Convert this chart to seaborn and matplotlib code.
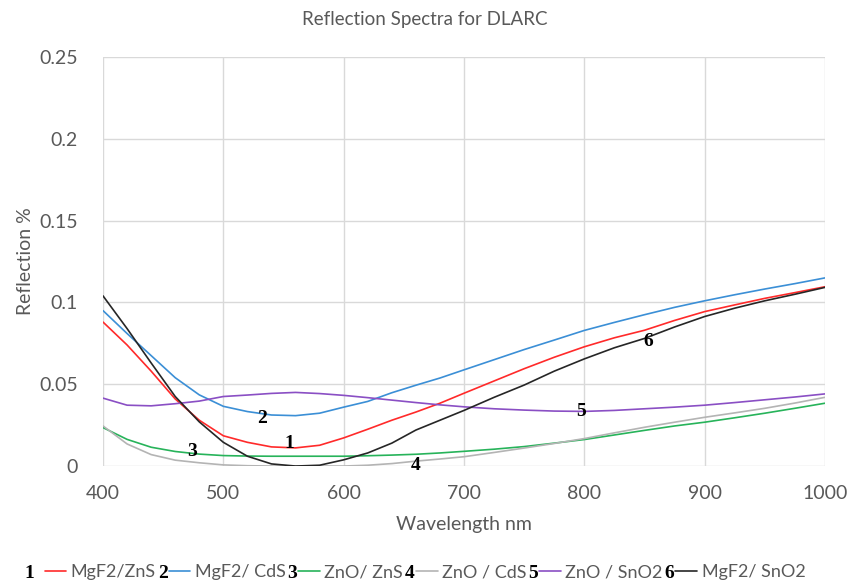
import numpy as np
import pandas as pd
import matplotlib
matplotlib.use("Agg")
import matplotlib.pyplot as plt
import seaborn as sns

# ---------------- data ----------------
wavelength = [400, 420, 440, 460, 480, 500, 520, 540, 560, 580, 600, 620, 640, 660,
              680, 700, 725, 750, 775, 800, 825, 850, 875, 900, 925, 950, 975, 1000]

mgf2_zns = [0.088, 0.074, 0.058, 0.041, 0.028, 0.0185, 0.0145, 0.0117, 0.0111, 0.0127,
            0.0172, 0.0225, 0.028, 0.033, 0.0384, 0.0445, 0.052, 0.0595, 0.0665, 0.0729,
            0.0784, 0.083, 0.089, 0.0944, 0.0985, 0.1025, 0.106, 0.1096]
mgf2_cds = [0.095, 0.081, 0.0675, 0.054, 0.0435, 0.0365, 0.0333, 0.0312, 0.0308, 0.0323,
            0.036, 0.0395, 0.0448, 0.0494, 0.0538, 0.0588, 0.065, 0.0712, 0.077, 0.0829,
            0.0878, 0.0925, 0.097, 0.101, 0.1047, 0.1082, 0.1115, 0.115]
zno_zns = [0.0235, 0.0163, 0.0115, 0.0089, 0.0073, 0.0064, 0.0061, 0.006, 0.006, 0.006,
           0.006, 0.0063, 0.0067, 0.0072, 0.008, 0.009, 0.0103, 0.0119, 0.014, 0.0162,
           0.019, 0.0218, 0.0245, 0.0268, 0.0295, 0.0323, 0.0353, 0.0384]
zno_cds = [0.0245, 0.0135, 0.007, 0.0036, 0.002, 0.0007, 0.0002, 0.0, 0.0, 0.0,
           0.0, 0.0005, 0.0015, 0.003, 0.0043, 0.0057, 0.0083, 0.011, 0.0138, 0.0168,
           0.0203, 0.0237, 0.0268, 0.0298, 0.0325, 0.0353, 0.0385, 0.042]
zno_sno2 = [0.0415, 0.0372, 0.0368, 0.0381, 0.0397, 0.0425, 0.0434, 0.0444, 0.045, 0.0443,
            0.0432, 0.0418, 0.0403, 0.0388, 0.0374, 0.0362, 0.035, 0.0342, 0.0336, 0.0334,
            0.034, 0.035, 0.036, 0.0372, 0.0388, 0.0405, 0.0422, 0.0441]
mgf2_sno2 = [0.104, 0.084, 0.063, 0.0425, 0.027, 0.0145, 0.006, 0.0013, 0.0, 0.0005,
             0.0038, 0.008, 0.014, 0.022, 0.028, 0.034, 0.042, 0.0495, 0.058, 0.0655,
             0.0723, 0.078, 0.085, 0.0914, 0.0965, 0.101, 0.105, 0.1092]

series_names = ["MgF2/ZnS", "MgF2/ CdS", "ZnO/ ZnS", "ZnO / CdS", "ZnO / SnO2", "MgF2/ SnO2"]
series_values = [mgf2_zns, mgf2_cds, zno_zns, zno_cds, zno_sno2, mgf2_sno2]
series_numbers = ["1", "2", "3", "4", "5", "6"]

# curve annotation positions (wavelength, reflection)
label_x = [555, 532, 474, 660, 797, 853]
label_y = [0.0138, 0.0292, 0.0086, 0.0004, 0.0334, 0.0764]

x_ticks = [400, 500, 600, 700, 800, 900, 1000]
y_ticks = [0, 0.05, 0.1, 0.15, 0.2, 0.25]
y_tick_labels = ["0", "0.05", "0.1", "0.15", "0.2", "0.25"]

colors = ["#ff2a2a", "#3b8fd6", "#27b35a", "#b4b4b4", "#8a4fc4", "#262626"]

# ---------------- build frame ----------------
rows = []
for name, vals in zip(series_names, series_values):
    for w, v in zip(wavelength, vals):
        rows.append({"Wavelength": w, "Reflection": v, "Series": name})
df = pd.DataFrame(rows)

sns.set_theme(style="whitegrid")
plt.rcParams["font.family"] = ["Lato", "DejaVu Sans"]
text_color = "#595959"

fig = plt.figure(figsize=(8.5, 5.86), dpi=100)
ax = fig.add_axes([0.1212, 0.2047, 0.9706 - 0.1212, 0.9027 - 0.2047])

sns.lineplot(data=df, x="Wavelength", y="Reflection", hue="Series",
             hue_order=series_names, palette=colors, linewidth=1.2,
             legend=False, ax=ax)

ax.set_xlim(400, 1000)
ax.set_ylim(0, 0.25)
ax.set_xticks(x_ticks)
ax.set_yticks(y_ticks)
ax.set_yticklabels(y_tick_labels)
ax.grid(True, color="#d9d9d9", linewidth=1.0)
for s in ax.spines.values():
    s.set_visible(False)
ax.tick_params(axis="both", length=0, labelsize=14, colors=text_color)
ax.tick_params(axis="y", pad=18)
ax.tick_params(axis="x", pad=14)
ax.set_xlabel("Wavelength nm", fontsize=14, color=text_color, labelpad=10)
ax.set_ylabel("Reflection %", fontsize=14, color=text_color, labelpad=4)
fig.suptitle("Reflection Spectra for DLARC", fontsize=13.5, color=text_color,
             x=0.5, y=0.982)

# curve number annotations
for num, lx, ly in zip(series_numbers, label_x, label_y):
    ax.text(lx, ly, num, fontsize=14, fontweight="bold",
            family=["Liberation Serif", "DejaVu Serif"],
            ha="center", va="center", color="black")

# legend
handles = list(ax.get_lines())[:len(series_names)]
leg = fig.legend(handles, series_names, loc="center", ncol=6,
                 bbox_to_anchor=(0.5, 1 - 572 / 586), frameon=False,
                 fontsize=13, handlelength=1.2, handletextpad=0.25,
                 columnspacing=0.7, labelcolor=text_color)

fig.canvas.draw()
renderer = fig.canvas.get_renderer()
inv = fig.transFigure.inverted()
for i, (num, line) in enumerate(zip(series_numbers, leg.get_lines())):
    bb = line.get_window_extent(renderer)
    gap = 10 if i == 0 else 1
    fx, fy = inv.transform((bb.x0 - gap, (bb.y0 + bb.y1) / 2))
    fig.text(fx, fy - 0.004, num, fontsize=14, fontweight="bold",
             family=["Liberation Serif", "DejaVu Serif"],
             ha="right", va="center", color="black")

fig.savefig("out.png", dpi=100)
